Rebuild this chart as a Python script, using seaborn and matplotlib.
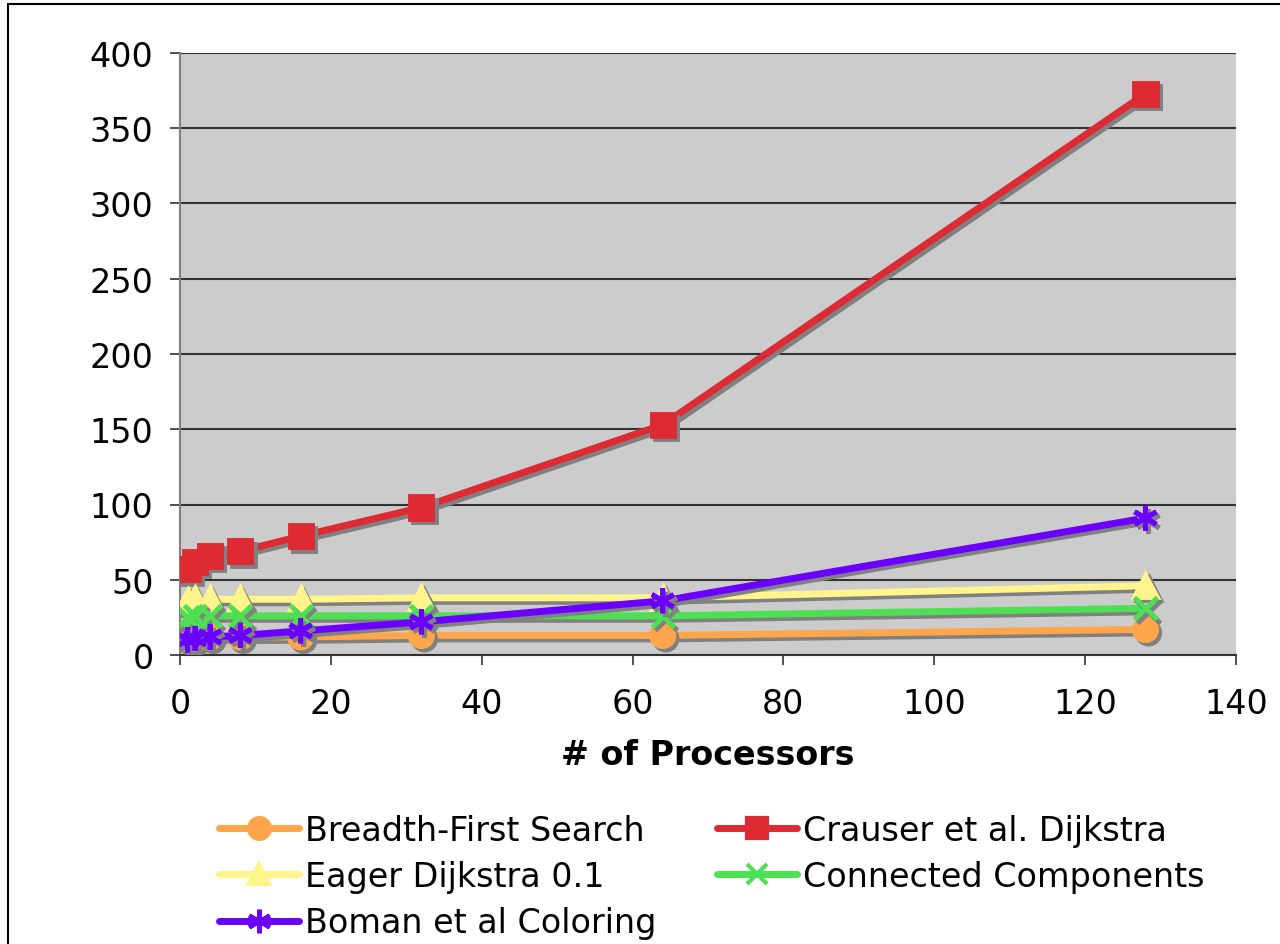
import matplotlib
matplotlib.use('Agg')
import matplotlib.pyplot as plt
import matplotlib.patheffects as pe
from matplotlib.lines import Line2D
from matplotlib.patches import Rectangle
import pandas as pd
import seaborn as sns

# values
processors = [1, 2, 4, 8, 16, 32, 64, 128]
bfs = [11, 11, 12, 12, 12, 13, 13, 17]
crauser = [57, 62, 66, 69, 79, 98, 153, 373]
eager = [36, 37, 37, 37, 37, 38, 38, 46]
connected = [25, 26, 26, 26, 26, 26, 26, 31]
boman = [10, 11, 12, 13, 16, 22, 36, 91]

series_names = ["Breadth-First Search", "Crauser et al. Dijkstra", "Eager Dijkstra 0.1",
                "Connected Components", "Boman et al Coloring"]
series_values = [bfs, crauser, eager, connected, boman]
colors = ["#FFA64D", "#DD2A33", "#FFF58C", "#4CE052", "#6A00FF"]
markers = ["o", "s", "^", "x", (6, 2, 0)]
marker_sizes = [16, 16, 16, 16, 18]

sns.set_theme(style="white")
plt.rcParams['font.family'] = ['DejaVu Sans']
FS = 24

df = pd.concat([pd.DataFrame({"procs": processors, "value": v, "series": n})
                for n, v in zip(series_names, series_values)])

fig = plt.figure(figsize=(12.8, 9.45), dpi=100)
ax = fig.add_axes([180 / 1280, 1 - 656 / 945, (1236 - 180) / 1280, (656 - 54) / 945])
ax.set_facecolor("#CCCCCC")

shadow = [pe.SimpleLineShadow(offset=(2.2, -2.5), shadow_color="#808080", alpha=1.0), pe.Normal()]
handles = []
for name, color, mk, ms in zip(series_names, colors, markers, marker_sizes):
    sub = df[df["series"] == name]
    sns.lineplot(data=sub, x="procs", y="value", ax=ax, color=color, lw=5,
                 marker=mk, markersize=ms, markeredgecolor=color, markeredgewidth=3.5,
                 legend=False, zorder=3)
    ax.lines[-1].set_path_effects(shadow)
    handles.append(Line2D([], [], color=color, lw=5, marker=mk, markersize=ms - 1,
                          markeredgecolor=color, markeredgewidth=3, solid_capstyle="round"))

ax.set_xlim(0, 140)
ax.set_ylim(0, 400)
ax.set_xticks(range(0, 141, 20))
ax.set_yticks(range(0, 401, 50))
ax.yaxis.grid(True, color="#333333", lw=1.5)
ax.xaxis.grid(False)
ax.set_axisbelow(True)
for s in ["top", "right"]:
    ax.spines[s].set_visible(False)
ax.spines["left"].set_color("#808080")
ax.spines["left"].set_linewidth(1.5)
ax.spines["bottom"].set_color("#333333")
ax.spines["bottom"].set_linewidth(1.5)
ax.tick_params(axis="both", which="major", direction="out", length=7, width=1.2,
               color="#333333", labelsize=FS, labelcolor="black", left=True, bottom=True)
ax.tick_params(axis="y", pad=12)
ax.tick_params(axis="x", pad=16)
ax.set_xlabel("# of Processors", fontsize=FS, fontweight="bold", color="black", labelpad=13)
ax.set_ylabel("")

order = [0, 2, 4, 1, 3]
leg = fig.legend([handles[i] for i in order], [series_names[i] for i in order],
                 ncol=2, loc="upper left", bbox_to_anchor=(202 / 1280, 1 - 798 / 945),
                 frameon=False, fontsize=FS, handlelength=2.4, handletextpad=0.2,
                 columnspacing=1.8, labelspacing=0.4, borderpad=0)
for t in leg.get_texts():
    t.set_color("black")

fig.patches.append(Rectangle((8 / 1280, -0.1), 1.2, 1 - 5 / 945 + 0.1, transform=fig.transFigure,
                             fill=False, edgecolor="black", lw=1.5))

fig.savefig("out.png", dpi=100)
